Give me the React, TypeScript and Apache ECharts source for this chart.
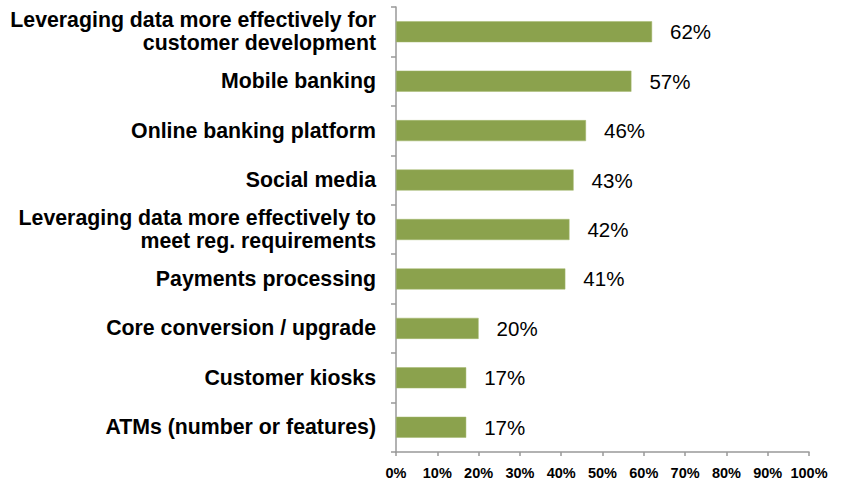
import React, { useEffect, useRef } from "react";
import * as echarts from "echarts";

const categories = [
  "Leveraging data more effectively for\ncustomer development",
  "Mobile banking",
  "Online banking platform",
  "Social media",
  "Leveraging data more effectively to\nmeet reg. requirements",
  "Payments processing",
  "Core conversion / upgrade",
  "Customer kiosks",
  "ATMs (number or features)",
];
const values = [62, 57, 46, 43, 42, 41, 20, 17, 17];
const tickValues = [0, 10, 20, 30, 40, 50, 60, 70, 80, 90, 100];

export default function App() {
  const ref = useRef<HTMLDivElement>(null);
  useEffect(() => {
    const chart = echarts.init(ref.current!, null, { renderer: "svg" });
    chart.setOption({
      animation: false,
      textStyle: { fontFamily: "Liberation Sans, Arial, sans-serif" },
      grid: { left: 396, right: 35, top: 7, bottom: 29, containLabel: false },
      xAxis: {
        type: "value",
        min: tickValues[0],
        max: tickValues[tickValues.length - 1],
        interval: 10,
        splitLine: { show: false },
        axisLine: { show: true, lineStyle: { color: "#999999", width: 1.5 } },
        axisTick: { show: true, length: 4, lineStyle: { color: "#999999", width: 1.5 } },
        axisLabel: {
          formatter: "{value}%",
          fontSize: 14.5,
          fontWeight: "bold",
          color: "#000",
          margin: 13,
        },
      },
      yAxis: {
        type: "category",
        data: categories,
        inverse: true,
        axisLine: { show: true, lineStyle: { color: "#999999", width: 1.5 } },
        axisTick: { show: true, length: 5, lineStyle: { color: "#999999", width: 1.5 } },
        axisLabel: {
          fontSize: 21.3,
          fontWeight: "bold",
          color: "#000",
          margin: 20,
          lineHeight: 23,
          align: "right",
        },
      },
      series: [
        {
          type: "bar",
          data: values,
          barWidth: 21,
          itemStyle: { color: "#8ba24d", borderColor: "#a4b86e", borderWidth: 0.5 },
          label: {
            show: true,
            position: "right",
            distance: 18,
            formatter: "{c}%",
            fontSize: 20.5,
            color: "#000",
          },
        },
      ],
    });
    return () => chart.dispose();
  }, []);
  return <div ref={ref} style={{ width: 844, height: 481, position: "absolute", left: 0, top: 0 }} />;
}
